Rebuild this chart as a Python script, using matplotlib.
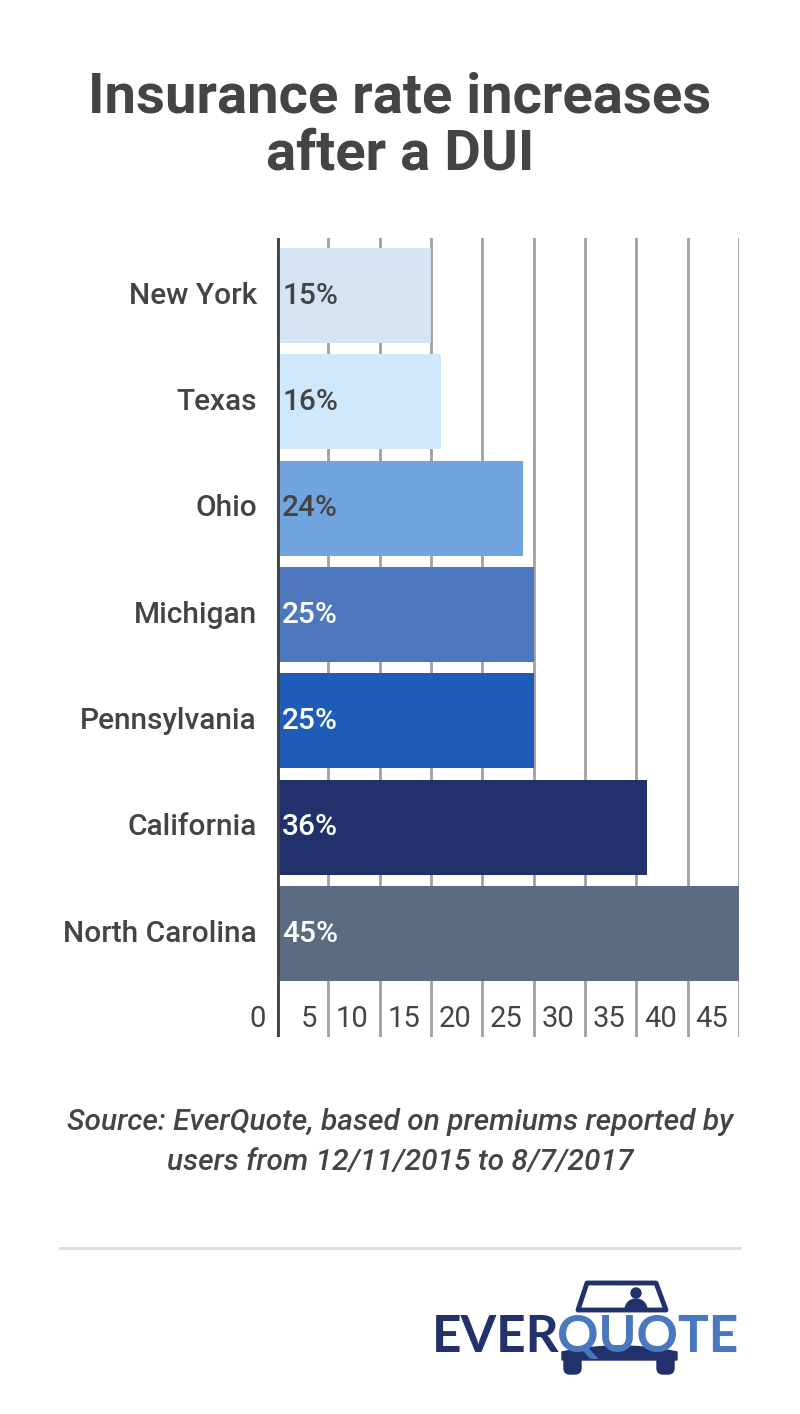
import numpy as np
import matplotlib
matplotlib.use("Agg")
from matplotlib import pyplot as plt
from matplotlib import patches, transforms

states = ["New York", "Texas", "Ohio", "Michigan", "Pennsylvania", "California", "North Carolina"]
increase = [15, 16, 24, 25, 25, 36, 45]
bar_colors = ["#d6e3f3", "#d0e8fc", "#72a5de", "#4d78bd", "#1f5cb8", "#21316b", "#5b6b82"]
label_colors = ["#444444", "#444444", "#444444", "white", "white", "white", "white"]
ticks = [0, 5, 10, 15, 20, 25, 30, 35, 40, 45]

title = "Insurance rate increases\nafter a DUI"
source = "Source: EverQuote, based on premiums reported by\nusers from 12/11/2015 to 8/7/2017"

TXT = "#444444"
plt.rcParams["font.family"] = ["Roboto", "DejaVu Sans"]

W, H = 800, 1414
fig = plt.figure(figsize=(W / 100, H / 100), dpi=100)

# chart axes: x 277..739 px, y 238..1037 px
ax = fig.add_axes([277 / W, 1 - 1037 / H, (739 - 277) / W, (1037 - 238) / H])
y = np.arange(len(states))
ax.barh(y, increase, height=0.894, color=bar_colors, zorder=2)
ax.set_xlim(0, 45)
ax.set_ylim(6.973, -0.541)
for t in ticks[1:]:
    ax.axvline(t, color="#a0a0a0", lw=2, zorder=1)
ax.axvline(0, color="#444444", lw=3.5, zorder=3)
for s in ax.spines.values():
    s.set_visible(False)
ax.set_xticks([])
ax.set_yticks([])

# value labels inside bars
for i, v in enumerate(increase):
    ax.text(0.5, i, f"{v}%", color=label_colors[i], fontsize=21.5, weight="medium",
            va="center", ha="left", zorder=4)

# category labels
lab_tr = ax.get_yaxis_transform() + transforms.ScaledTranslation(-20 / 100, 0, fig.dpi_scale_trans)
for i, s in enumerate(states):
    ax.text(0, i, s, transform=lab_tr, ha="right", va="center", fontsize=21.5,
            weight="medium", color=TXT)

# tick labels, right-aligned before each gridline
tick_tr = ax.get_xaxis_transform() + transforms.ScaledTranslation(-11 / 100, 0, fig.dpi_scale_trans)
for t in ticks:
    ax.text(t, 0.022, str(t), transform=tick_tr, ha="right", va="center",
            fontsize=21, color=TXT)

# overlay in pixel coordinates for title, source, rule and logo
ov = fig.add_axes([0, 0, 1, 1], zorder=5)
ov.set_xlim(0, W)
ov.set_ylim(H, 0)
ov.axis("off")
ov.patch.set_alpha(0)

ov.text(400, 126, title, ha="center", va="center", fontsize=40.5, weight="bold",
        color=TXT, linespacing=1.12)
ov.text(400, 1142, source, ha="center", va="center", fontsize=21.5, style="italic",
        weight="medium", color=TXT, linespacing=1.5)
ov.plot([60, 740], [1248, 1248], color="#dddddd", lw=2)

# logo
NAVY = "#22306b"
LBLUE = "#4a78bf"
roof = patches.Polygon([[578, 1310], [587, 1283], [656, 1283], [666, 1310]],
                       closed=True, fill=False, edgecolor=NAVY, lw=3.5, joinstyle="round")
ov.add_patch(roof)
ov.add_patch(patches.Circle((636, 1293), 5, color=NAVY))
ov.add_patch(patches.Wedge((636, 1310), 11, 180, 360, color=NAVY))
xb = np.linspace(562, 677, 40)
top = 1346 + 6 * ((xb - 619.5) / 57.5) ** 2
body = np.concatenate([np.column_stack([xb, top]), [[677, 1360], [562, 1360]]])
ov.add_patch(patches.Polygon(body, closed=True, color=NAVY))
ov.add_patch(patches.FancyBboxPatch((564, 1352), 17, 22, boxstyle="round,pad=0,rounding_size=6", color=NAVY))
ov.add_patch(patches.FancyBboxPatch((657, 1352), 17, 22, boxstyle="round,pad=0,rounding_size=6", color=NAVY))
ov.text(432, 1352, "EVER", ha="left", va="baseline", fontsize=37, color=NAVY,
        family="Lato", weight="bold")
ov.text(738, 1352, "QUOTE", ha="right", va="baseline", fontsize=37, color=LBLUE,
        family="Lato", weight="bold")

fig.savefig("out.png", dpi=100)
